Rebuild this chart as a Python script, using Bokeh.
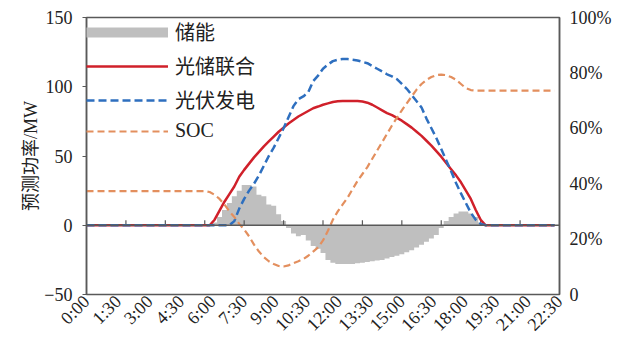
import math
import numpy as np
from bokeh.plotting import figure
from bokeh.models import (Range1d, LinearAxis, FixedTicker, CustomJSTickFormatter,
                          Span, Legend, LegendItem, ColumnDataSource)
from bokeh.embed import file_html
from bokeh.resources import INLINE

# ---- data: 96 fifteen-minute slots ----
slots = list(range(96))

storage = ([0] * 26 +
           [2, 6, 11, 16, 21, 25, 29, 29, 28, 22, 21, 15, 14, 8, 3,
            -2, -6, -8, -7, -11, -15, -17, -20, -25, -27, -28, -28, -28, -28, -27.5,
            -27, -26.5, -26, -25.5, -25, -24, -23, -22, -21, -19.5, -18, -16, -14, -12, -9.5,
            -7, -2, 3, 6, 8.5, 10, 10, 8.5, 6, 2] +
           [0] * 15)

combined = ([0] * 26 +
            [4, 10.5, 17, 22.5, 28, 35, 40, 44.5, 49, 53, 57, 60.5, 64, 67.5, 70.5,
             73.5, 76, 78.5, 80.5, 82.5, 84.5, 85.7, 87, 88, 89, 89.5, 89.7, 89.8, 89.8, 89.7,
             89.3, 88.5, 87, 85, 83, 81, 79.5, 77.5, 75.5, 73, 70.5, 67.5, 64.5, 61, 57.5,
             53.5, 49.5, 45, 40.5, 36, 31, 25, 19, 11, 4] +
            [0] * 15)

pv = ([0] * 30 +
      [3, 12, 19, 25, 30, 36, 43, 50, 56, 63, 70, 78, 86, 91, 93,
       96, 104, 108, 113, 116, 118.5, 119.5, 120, 120, 119.5, 119, 118, 117, 115, 113,
       111, 109, 107.5, 105.5, 102, 98.5, 94, 89.5, 85, 77, 70, 63, 55, 47, 39,
       30.5, 23, 16, 9, 4, 1] +
      [0] * 15)

soc = ([37.3] * 25 +
       [37, 36, 34.5, 32.5, 30, 28, 25.5, 23.5, 21, 18, 15.5, 13.5, 12, 11, 10.3,
        10.1, 10.5, 11.3, 12, 12.8, 14, 15.5, 17, 19.5, 23, 27, 30, 32.5, 35, 38,
        41, 43.5, 46, 49, 52, 55, 58, 61, 63.8, 66.5, 69, 71.5, 74, 76, 77.5,
        78.5, 79.2, 79.4, 79.2, 78.5, 77.5, 76, 74.5, 73.8] +
       [73.6] * 17)

time_labels = ["0:00", "1:30", "3:00", "4:30", "6:00", "7:30", "9:00", "10:30",
               "12:00", "13:30", "15:00", "16:30", "18:00", "19:30", "21:00", "22:30"]
left_ticks = [-50, 0, 50, 100, 150]
right_ticks = [0, 20, 40, 60, 80, 100]
right_labels = ["0", "20%", "40%", "60%", "80%", "100%"]
series_names = ["储能", "光储联合", "光伏发电", "SOC"]

# ---- figure ----
SERIF = "Liberation Serif, Noto Sans CJK SC"
AXIS_COLOR = "#595959"
TEXT_COLOR = "#222222"

src = ColumnDataSource(dict(x=slots, storage=storage, combined=combined, pv=pv, soc=soc))

p = figure(frame_width=473, frame_height=277,
           min_border_left=86, min_border_right=53, min_border_top=17, min_border_bottom=43,
           x_range=Range1d(0, 96), y_range=Range1d(-50, 150),
           output_backend="svg", toolbar_location=None, x_axis_type=None, y_axis_type=None)
p.xgrid.visible = False
p.ygrid.visible = False
p.outline_line_color = AXIS_COLOR
p.outline_line_width = 1.5
p.background_fill_color = "white"
p.border_fill_color = "white"

p.extra_y_ranges = {"soc": Range1d(0, 100)}

# left axis
yax = LinearAxis(ticker=FixedTicker(ticks=left_ticks),
                 major_label_overrides={-50: "\u221250"})
yax.axis_label = "预测功率/MW"
yax.axis_label_text_font = SERIF
yax.axis_label_text_font_size = "18px"
yax.axis_label_text_font_style = "normal"
yax.axis_label_text_color = TEXT_COLOR
yax.axis_label_standoff = 0
yax.major_label_text_font = SERIF
yax.major_label_text_font_size = "18px"
yax.major_label_text_color = TEXT_COLOR
yax.major_tick_out = 4
yax.major_tick_in = 0
yax.minor_tick_out = 0
yax.minor_tick_in = 0
yax.axis_line_color = AXIS_COLOR
yax.axis_line_width = 1.5
yax.major_tick_line_color = AXIS_COLOR
yax.major_label_standoff = 10
p.add_layout(yax, "left")

# right axis
rax = LinearAxis(y_range_name="soc", ticker=FixedTicker(ticks=right_ticks),
                 major_label_overrides={t: l for t, l in zip(right_ticks, right_labels)})
rax.major_label_text_font = SERIF
rax.major_label_text_font_size = "18px"
rax.major_label_text_color = TEXT_COLOR
rax.major_tick_out = 0
rax.major_tick_in = 0
rax.minor_tick_out = 0
rax.minor_tick_in = 0
rax.axis_line_color = AXIS_COLOR
rax.axis_line_width = 1.5
rax.major_label_standoff = 10
p.add_layout(rax, "right")

# bottom axis (labels only)
n_lab = len(time_labels)
step = 96 / (n_lab - 1)
label_pos = [i * step for i in range(n_lab)]
xax = LinearAxis(ticker=FixedTicker(ticks=label_pos),
                 formatter=CustomJSTickFormatter(args=dict(labels=time_labels, step=step),
                                                 code="return labels[Math.round(tick / step)];"))
xax.major_label_orientation = math.pi / 4
xax.major_label_text_font = SERIF
xax.major_label_text_font_size = "18px"
xax.major_label_text_color = TEXT_COLOR
xax.major_tick_out = 0
xax.major_tick_in = 0
xax.minor_tick_out = 0
xax.minor_tick_in = 0
xax.axis_line_color = None
xax.major_label_standoff = 4
p.add_layout(xax, "below")

# storage (stepped area, one step per slot)
p.varea_step(x="x", y1=0, y2="storage", step_mode="center", source=src,
             fill_color="#BFBFBF")

# horizontal axis line at 0 with tick marks every 8 slots
p.add_layout(Span(location=0, dimension="width", line_color=AXIS_COLOR, line_width=1.5))
tick_x = list(range(0, 97, 8))
p.segment(x0=tick_x, x1=tick_x, y0=[0] * len(tick_x), y1=[3.6] * len(tick_x),
          line_color=AXIS_COLOR, line_width=1.2)

r_comb = p.line("x", "combined", source=src, line_color="#D0202A", line_width=2.5)
r_pv = p.line("x", "pv", source=src, line_color="#2E6FBF", line_width=2.5, line_dash="8 4")
r_soc = p.line("x", "soc", source=src, y_range_name="soc", line_color="#E38F5E",
               line_width=2.2, line_dash="7 4")

# legend proxy for storage (thick grey bar); NaN data draws nothing in the plot
proxy = p.line(x=[np.nan], y=[np.nan], line_color="#BFBFBF", line_width=10)

legend = Legend(items=[LegendItem(label=series_names[0], renderers=[proxy]),
                       LegendItem(label=series_names[1], renderers=[r_comb]),
                       LegendItem(label=series_names[2], renderers=[r_pv]),
                       LegendItem(label=series_names[3], renderers=[r_soc])],
                location="top_left", margin=0, padding=6,
                border_line_color=None, background_fill_alpha=0,
                glyph_width=82, glyph_height=20, label_height=20, spacing=5,
                label_standoff=7, label_text_font=SERIF, label_text_font_size="20px",
                label_text_color=TEXT_COLOR)
p.add_layout(legend)

open("out.html", "w").write(file_html(p, INLINE))
